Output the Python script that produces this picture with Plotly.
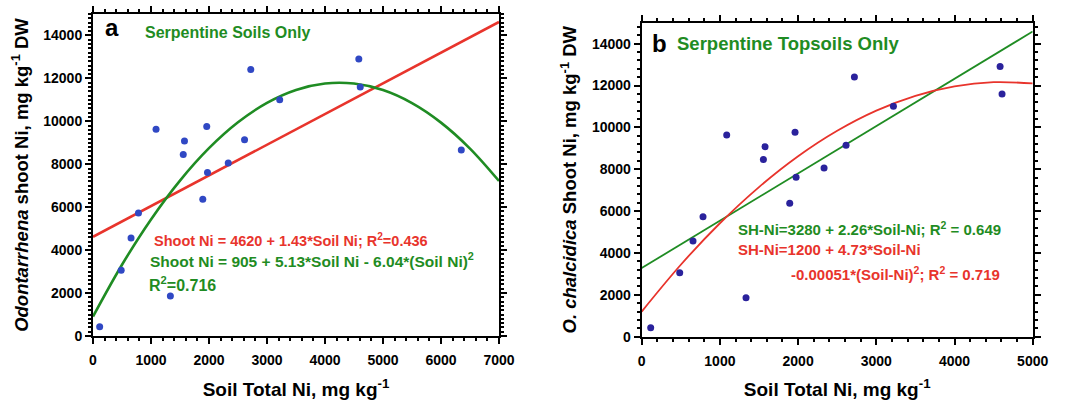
import plotly.graph_objects as go

# ---- data ----
soil_a = [115, 486, 656, 784, 1087, 1334, 1556, 1577, 1893, 1961, 1974, 2332, 2613, 2720, 3219, 4583, 4608, 6350]
shoot_a = [430, 3058, 4571, 5734, 9637, 1864, 8459, 9080, 6372, 9765, 7615, 8061, 9144, 12410, 11008, 12903, 11597, 8670]

soil_b = [115, 486, 656, 784, 1087, 1334, 1556, 1577, 1893, 1961, 1974, 2332, 2613, 2720, 3219, 4583, 4608]
shoot_b = [430, 3058, 4571, 5734, 9637, 1864, 8459, 9080, 6372, 9765, 7615, 8061, 9144, 12410, 11008, 12903, 11597]

# panel a fitted lines
lin_a_x = [0, 7000]
lin_a_y = [4620, 14630]
quad_a_x = [0, 500, 1000, 1500, 2000, 2500, 3000, 3500, 4000, 4500, 5000, 5500, 6000, 6500, 7000]
quad_a_y = [905, 3319, 5431, 7241, 8749, 9955, 10859, 11461, 11761, 11759, 11455, 10849, 9941, 8731, 7219]

# panel b fitted lines
lin_b_x = [0, 5000]
lin_b_y = [3280, 14580]
quad_b_x = [0, 500, 1000, 1500, 2000, 2500, 3000, 3500, 4000, 4500, 5000]
quad_b_y = [1200, 3437, 5420, 7147, 8620, 9837, 10800, 11507, 11960, 12157, 12100]

RED = "#e8342c"
GREEN = "#1f8c23"
FONT = "Arial, Liberation Sans, sans-serif"

fig = go.Figure()

fig.add_trace(go.Scatter(x=lin_a_x, y=lin_a_y, mode="lines", line=dict(color=RED, width=2.6),
                         xaxis="x", yaxis="y", showlegend=False))
fig.add_trace(go.Scatter(x=quad_a_x, y=quad_a_y, mode="lines", line=dict(color=GREEN, width=2.6, shape="spline"),
                         xaxis="x", yaxis="y", showlegend=False))
fig.add_trace(go.Scatter(x=soil_a, y=shoot_a, mode="markers", marker=dict(color="#3048c4", size=7),
                         xaxis="x", yaxis="y", showlegend=False))

fig.add_trace(go.Scatter(x=lin_b_x, y=lin_b_y, mode="lines", line=dict(color=GREEN, width=1.8),
                         xaxis="x2", yaxis="y2", showlegend=False))
fig.add_trace(go.Scatter(x=quad_b_x, y=quad_b_y, mode="lines", line=dict(color=RED, width=1.8, shape="spline"),
                         xaxis="x2", yaxis="y2", showlegend=False))
fig.add_trace(go.Scatter(x=soil_b, y=shoot_b, mode="markers", marker=dict(color="#2a229c", size=7),
                         xaxis="x2", yaxis="y2", showlegend=False))

def axis(domain, rng, dtick, minor_dtick, anchor, title, standoff, tfs, lstand):
    return dict(
        domain=domain, range=rng, dtick=dtick, anchor=anchor, tickformat="d",
        showgrid=False, zeroline=False, automargin=False,
        showline=True, linecolor="black", linewidth=2, mirror="allticks",
        ticks="outside", ticklen=6, tickwidth=2, tickcolor="black",
        ticklabelstandoff=lstand,
        minor=dict(dtick=minor_dtick, ticks="outside", ticklen=3, tickwidth=1.5, tickcolor="black"),
        tickfont=dict(family=FONT, size=14, color="black", weight="bold"),
        title=dict(text=title, font=dict(family=FONT, size=tfs, color="black", weight="bold"), standoff=standoff),
    )

xt = "Soil Total Ni, mg kg<sup>-1</sup>"
fig.update_layout(
    width=1071, height=400,
    margin=dict(l=0, r=0, t=0, b=0),
    paper_bgcolor="white", plot_bgcolor="white",
    xaxis=axis([93/1071, 499/1071], [0, 7000], 1000, 200, "y", xt, 20, 19, 4),
    yaxis=axis([1-336/400, 1-14/400], [0, 15000], 2000, 200, "x",
               "<i>Odontarrhena</i> shoot Ni, mg kg<sup>-1</sup> DW", 10, 18.5, 0),
    xaxis2=axis([641.7/1071, 1032.7/1071], [0, 5000], 1000, 200, "y2", xt, 20, 19, 4),
    yaxis2=axis([1-336.7/400, 1-22.7/400], [0, 15000], 2000, 400, "x2",
                "<i>O. chalcidica</i> Shoot Ni, mg kg<sup>-1</sup> DW", 10, 18.5, 0),
)

def ann(text, x, y, xr, yr, color, size, xanchor="left"):
    fig.add_annotation(text=text, x=x, y=y, xref=xr, yref=yr, showarrow=False,
                       xanchor=xanchor, yanchor="middle",
                       font=dict(family=FONT, size=size, color=color, weight="bold"))

ann("a", 328, 14390, "x", "y", "black", 24, "center")
ann("Serpentine Soils Only", 862, 14160, "x", "y", GREEN, 16)
ann("Shoot Ni = 4620 + 1.43*Soil Ni; R<sup>2</sup>=0.436", 1017, 4470, "x", "y", RED, 14.5)
ann("Shoot Ni = 905 + 5.13*Soil Ni - 6.04*(Soil Ni)<sup>2</sup>", 948, 3520, "x", "y", GREEN, 15.5)
ann("R<sup>2</sup>=0.716", 931, 2420, "x", "y", GREEN, 16)

ann("b", 230, 13985, "x2", "y2", "black", 24, "center")
ann("Serpentine Topsoils Only", 430, 13985, "x2", "y2", GREEN, 18.5)
ann("SH-Ni=3280 + 2.26*Soil-Ni; R<sup>2</sup> = 0.649", 1200, 5180, "x2", "y2", GREEN, 15)
ann("SH-Ni=1200 + 4.73*Soil-Ni", 1200, 4142, "x2", "y2", RED, 15)
ann("-0.00051*(Soil-Ni)<sup>2</sup>; R<sup>2</sup> = 0.719", 1880, 3043, "x2", "y2", RED, 15)

fig.write_html("out.html")
